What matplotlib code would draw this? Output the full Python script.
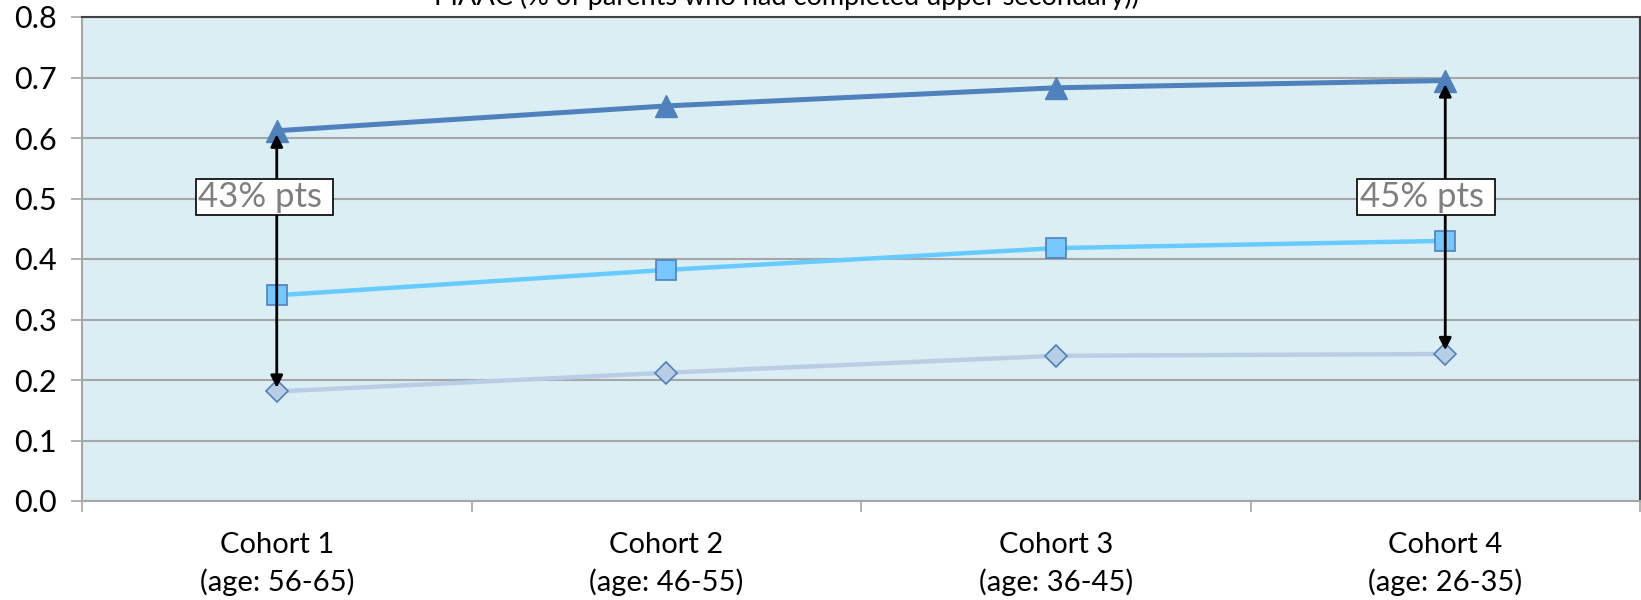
import matplotlib
matplotlib.use("Agg")
import matplotlib.pyplot as plt

# Data
cohorts = ["Cohort 1\n(age: 56-65)", "Cohort 2\n(age: 46-55)",
           "Cohort 3\n(age: 36-45)", "Cohort 4\n(age: 26-35)"]
high_share = [0.612, 0.653, 0.683, 0.695]
mid_share = [0.340, 0.382, 0.418, 0.430]
low_share = [0.181, 0.212, 0.240, 0.243]
gap_labels = ["43% pts", "45% pts"]
yticks = [0.0, 0.1, 0.2, 0.3, 0.4, 0.5, 0.6, 0.7, 0.8]

plt.rcParams["font.family"] = ["Lato", "DejaVu Sans"]

fig = plt.figure(figsize=(16.41, 6.0), dpi=100)
ax = fig.add_axes([82 / 1641, 1 - 501 / 600, 1558 / 1641, 484 / 600])
ax.set_facecolor("#DAEEF3")

x = list(range(len(cohorts)))

ax.plot(x, low_share, color="#B9CDE5", lw=3.2, marker="D", ms=11,
        mfc="#B9CDE5", mec="#4F81BD", mew=1.2, zorder=3)
ax.plot(x, mid_share, color="#66CCFF", lw=3.2, marker="s", ms=15,
        mfc="#75C8FF", mec="#4F81BD", mew=1.2, zorder=3)
ax.plot(x, high_share, color="#4F81BD", lw=3.6, marker="^", ms=16,
        mfc="#4F81BD", mec="#4F81BD", zorder=3)

# Gap arrows between the top and bottom series for the first and last cohort
for i, lab, xl in [(0, gap_labels[0], -0.203), (3, gap_labels[1], 2.78)]:
    ax.annotate("", xy=(i, high_share[i] - 0.006), xytext=(i, low_share[i] + 0.006),
                arrowprops=dict(arrowstyle="<|-|>", color="black", lw=2,
                                mutation_scale=18, shrinkA=0, shrinkB=0),
                zorder=4)
    ax.text(xl, 0.503, lab + " ", ha="left", va="center", fontsize=25,
            color="#7F7F7F", zorder=5,
            bbox=dict(boxstyle="square,pad=0.06", fc="white", ec="black", lw=1.2))

ax.set_xlim(-0.5, 3.5)
ax.set_ylim(0, 0.8)
ax.set_yticks(yticks)
ax.set_yticklabels([f"{v:.1f}" for v in yticks])
ax.yaxis.grid(True, color="#A6A6A6", lw=1.5)
ax.set_axisbelow(True)

ax.set_xticks(x)
ax.set_xticklabels(cohorts, fontsize=21, linespacing=1.5)
ax.set_xticks([-0.5, 0.5, 1.5, 2.5, 3.5], minor=True)
ax.tick_params(axis="x", which="major", length=0, pad=22)
ax.tick_params(axis="x", which="minor", length=8, color="#A6A6A6", width=1.2)
ax.tick_params(axis="y", length=8, color="#A6A6A6", width=1.2, labelsize=22, pad=10)

for s in ["left", "bottom"]:
    ax.spines[s].set_color("#A6A6A6")
    ax.spines[s].set_linewidth(1.5)
for s in ["top", "right"]:
    ax.spines[s].set_color("#404040")
    ax.spines[s].set_linewidth(1.5)

fig.text(787 / 1641, 1 - 5 / 600,
         "PIAAC (% of parents who had completed upper secondary))",
         ha="center", va="baseline", fontsize=19.5, color="black")

fig.savefig("out.png", dpi=100, facecolor="white")
